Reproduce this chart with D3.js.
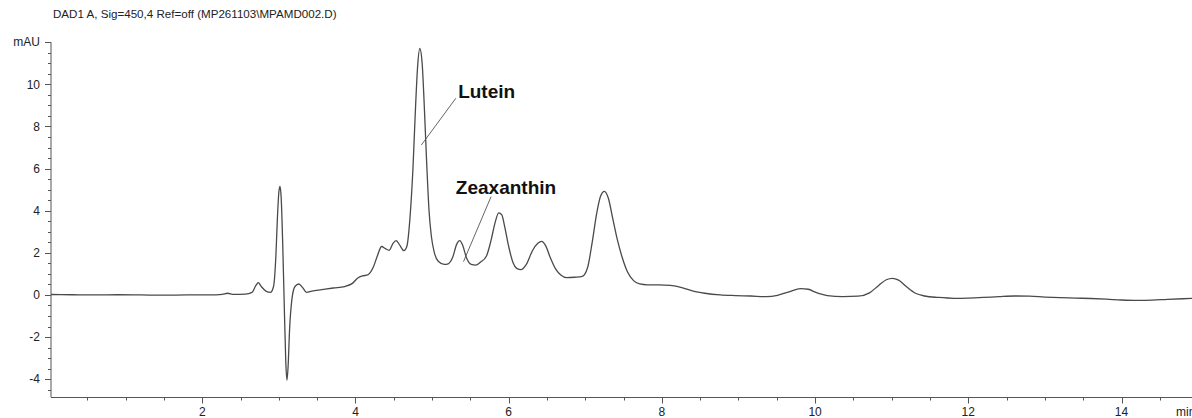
<!DOCTYPE html>
<html>
<head>
<meta charset="utf-8">
<script src="https://cdn.jsdelivr.net/npm/d3@7/dist/d3.min.js"></script>
<style>
  html, body { margin: 0; padding: 0; background: #fff; }
  svg { display: block; }
  text { font-family: "Liberation Sans", Arial, sans-serif; }
</style>
</head>
<body>
<svg id="chart" width="1192" height="418"></svg>
<script>
// DAD1 A, 450 nm chromatogram: retention time (min) vs. absorbance (mAU)
const timeMin = [
  0.02, 0.30, 0.60, 0.90, 1.20, 1.50, 1.80, 2.10, 2.26, 2.33, 2.41, 2.56,
  2.65, 2.70, 2.73, 2.77, 2.83, 2.89, 2.93, 2.96, 2.98, 3.00, 3.015, 3.03,
  3.05, 3.07, 3.09, 3.105, 3.12, 3.14, 3.17, 3.21, 3.26, 3.31, 3.36, 3.43,
  3.56, 3.71, 3.86, 3.96, 4.03, 4.09, 4.16, 4.23, 4.29, 4.34, 4.39, 4.44,
  4.49, 4.53, 4.58, 4.63, 4.67, 4.71, 4.75, 4.78, 4.81, 4.84, 4.87, 4.90,
  4.93, 4.96, 4.99, 5.03, 5.08, 5.16, 5.21, 5.27, 5.32, 5.36, 5.40, 5.45,
  5.51, 5.57, 5.63, 5.71, 5.77, 5.82, 5.87, 5.91, 5.95, 6.00, 6.05, 6.11,
  6.16, 6.23, 6.31, 6.38, 6.43, 6.48, 6.54, 6.61, 6.68, 6.76, 6.86, 6.96,
  7.03, 7.09, 7.15, 7.20, 7.25, 7.30, 7.36, 7.42, 7.48, 7.55, 7.63, 7.71,
  7.81, 7.96, 8.11, 8.26, 8.41, 8.56, 8.76, 8.96, 9.16, 9.36, 9.51, 9.66,
  9.81, 9.91, 10.01, 10.16, 10.36, 10.56, 10.71, 10.83, 10.93, 11.01, 11.09,
  11.19, 11.31, 11.43, 11.61, 11.81, 12.00, 12.20, 12.40, 12.60, 12.80,
  13.00, 13.20, 13.40, 13.60, 13.80, 14.00, 14.20, 14.40, 14.60, 14.80, 15.00
];
const signalMAU = [
  0.02, 0.01, 0.00, 0.01, 0.00, -0.01, 0.00, 0.00, 0.03, 0.08, 0.03, 0.04,
  0.12, 0.45, 0.58, 0.40, 0.18, 0.12, 0.40, 1.80, 3.60, 4.90, 5.15, 4.60,
  2.40, -0.50, -3.20, -4.05, -3.40, -1.60, -0.20, 0.40, 0.52, 0.35, 0.12, 0.18,
  0.25, 0.33, 0.40, 0.55, 0.80, 0.90, 0.95, 1.30, 1.90, 2.30, 2.20, 2.12,
  2.45, 2.58, 2.35, 2.10, 2.30, 3.60, 6.00, 8.60, 10.80, 11.70, 11.00, 8.80,
  6.20, 4.00, 2.80, 2.00, 1.60, 1.45, 1.48, 1.80, 2.40, 2.58, 2.35, 1.75,
  1.45, 1.42, 1.55, 1.85, 2.60, 3.40, 3.90, 3.80, 3.20, 2.30, 1.60, 1.25,
  1.20, 1.45, 2.10, 2.45, 2.54, 2.35, 1.80, 1.25, 0.95, 0.82, 0.84, 0.88,
  1.30, 2.50, 3.90, 4.70, 4.92, 4.60, 3.60, 2.60, 1.80, 1.10, 0.68, 0.52,
  0.48, 0.48, 0.45, 0.35, 0.18, 0.08, 0.00, -0.03, -0.05, -0.08, -0.02, 0.15,
  0.30, 0.27, 0.12, -0.03, -0.08, -0.06, 0.10, 0.45, 0.72, 0.79, 0.70,
  0.40, 0.08, -0.05, -0.12, -0.16, -0.15, -0.12, -0.08, -0.05, -0.06,
  -0.10, -0.13, -0.15, -0.17, -0.20, -0.24, -0.26, -0.25, -0.21, -0.18, -0.16
];

// Axis tick values
const xMajorTicks = [2, 4, 6, 8, 10, 12, 14];
const yMajorTicks = [-4, -2, 0, 2, 4, 6, 8, 10];

// Peak annotations: label position and leader line end points (time, mAU)
const peakNames = ["Lutein", "Zeaxanthin"];
const labelTime = [5.34, 5.31];
const labelMAU = [9.36, 4.79];
const leaderFromTime = [5.31, 5.77];
const leaderFromMAU = [9.34, 4.67];
const leaderToTime = [4.86, 5.41];
const leaderToMAU = [7.12, 1.58];

const title = "DAD1 A, Sig=450,4 Ref=off (MP261103\\MPAMD002.D)";

const svg = d3.select("#chart");
const W = 1192, H = 418;

const x = d3.scaleLinear().domain([0, 15]).range([49.1, 49.1 + 76.6 * 15]);
const y = d3.scaleLinear().domain([-4.86, 12]).range([397.3, 42.2]);

const axisColor = "#555";
const textColor = "#222";

svg.append("rect").attr("width", W).attr("height", H).attr("fill", "#fff");

// Title
svg.append("text")
  .attr("x", 53).attr("y", 18.3)
  .attr("font-size", 11.6).attr("fill", textColor)
  .text(title);

const x0 = 51; // left edge of the plot (y axis position)

// Y axis
const gy = svg.append("g").attr("transform", `translate(${x0},0)`);
gy.append("line")
  .attr("x1", 0).attr("x2", 0).attr("y1", y(12)).attr("y2", y(-4.86))
  .attr("stroke", axisColor);
const yMinor = d3.range(-4.5, 12.01, 0.5);
gy.selectAll("line.minor").data(yMinor).join("line")
  .attr("class", "minor")
  .attr("x1", -3).attr("x2", 0)
  .attr("y1", d => Math.round(y(d)) + 0.5).attr("y2", d => Math.round(y(d)) + 0.5)
  .attr("stroke", axisColor);
gy.selectAll("line.major").data(yMajorTicks.concat([12])).join("line")
  .attr("class", "major")
  .attr("x1", -6).attr("x2", 0)
  .attr("y1", d => Math.round(y(d)) + 0.5).attr("y2", d => Math.round(y(d)) + 0.5)
  .attr("stroke", axisColor);
gy.selectAll("text.tick").data(yMajorTicks).join("text")
  .attr("class", "tick")
  .attr("x", -11).attr("y", d => y(d))
  .attr("dy", "0.35em").attr("text-anchor", "end")
  .attr("font-size", 12).attr("fill", textColor)
  .text(d => d);
gy.append("text")
  .attr("x", -11).attr("y", y(12)).attr("dy", "0.35em")
  .attr("text-anchor", "end").attr("font-size", 12).attr("fill", textColor)
  .text("mAU");

// X axis
const yAxisPos = 397.5;
const gx = svg.append("g");
gx.append("line")
  .attr("x1", x0).attr("x2", W).attr("y1", yAxisPos).attr("y2", yAxisPos)
  .attr("stroke", axisColor);
const xMinor = d3.range(0.5, 15.01, 0.5);
gx.selectAll("line.minor").data(xMinor).join("line")
  .attr("class", "minor")
  .attr("x1", d => Math.round(x(d)) + 0.5).attr("x2", d => Math.round(x(d)) + 0.5)
  .attr("y1", yAxisPos).attr("y2", yAxisPos + 3)
  .attr("stroke", axisColor);
gx.selectAll("line.major").data(xMajorTicks).join("line")
  .attr("class", "major")
  .attr("x1", d => Math.round(x(d)) + 0.5).attr("x2", d => Math.round(x(d)) + 0.5)
  .attr("y1", yAxisPos).attr("y2", yAxisPos + 6)
  .attr("stroke", axisColor);
gx.selectAll("text.tick").data(xMajorTicks).join("text")
  .attr("class", "tick")
  .attr("x", d => x(d)).attr("y", 416)
  .attr("text-anchor", "middle").attr("font-size", 12).attr("fill", textColor)
  .text(d => d);
// Unit label runs off the right edge of the plot area
gx.append("text")
  .attr("x", 1176).attr("y", 416)
  .attr("font-size", 12).attr("fill", textColor)
  .text("min");

// Chromatogram trace
const points = timeMin.map((t, i) => [t, signalMAU[i]]);
const line = d3.line()
  .x(d => x(d[0])).y(d => y(d[1]))
  .curve(d3.curveMonotoneX);
svg.append("defs").append("clipPath").attr("id", "plotClip")
  .append("rect").attr("x", x0).attr("y", 0).attr("width", W - x0).attr("height", yAxisPos);
svg.append("path")
  .datum(points)
  .attr("clip-path", "url(#plotClip)")
  .attr("d", line)
  .attr("fill", "none")
  .attr("stroke", "#4a4a4a")
  .attr("stroke-width", 1.3)
  .attr("stroke-linejoin", "round");

// Peak labels with leader lines
const ann = svg.append("g");
peakNames.forEach((name, i) => {
  ann.append("line")
    .attr("x1", x(leaderFromTime[i])).attr("y1", y(leaderFromMAU[i]))
    .attr("x2", x(leaderToTime[i])).attr("y2", y(leaderToMAU[i]))
    .attr("stroke", "#555").attr("stroke-width", 0.9);
  ann.append("text")
    .attr("x", x(labelTime[i])).attr("y", y(labelMAU[i]))
    .attr("font-size", 19).attr("font-weight", "bold").attr("fill", "#111")
    .text(name);
});
</script>
</body>
</html>
